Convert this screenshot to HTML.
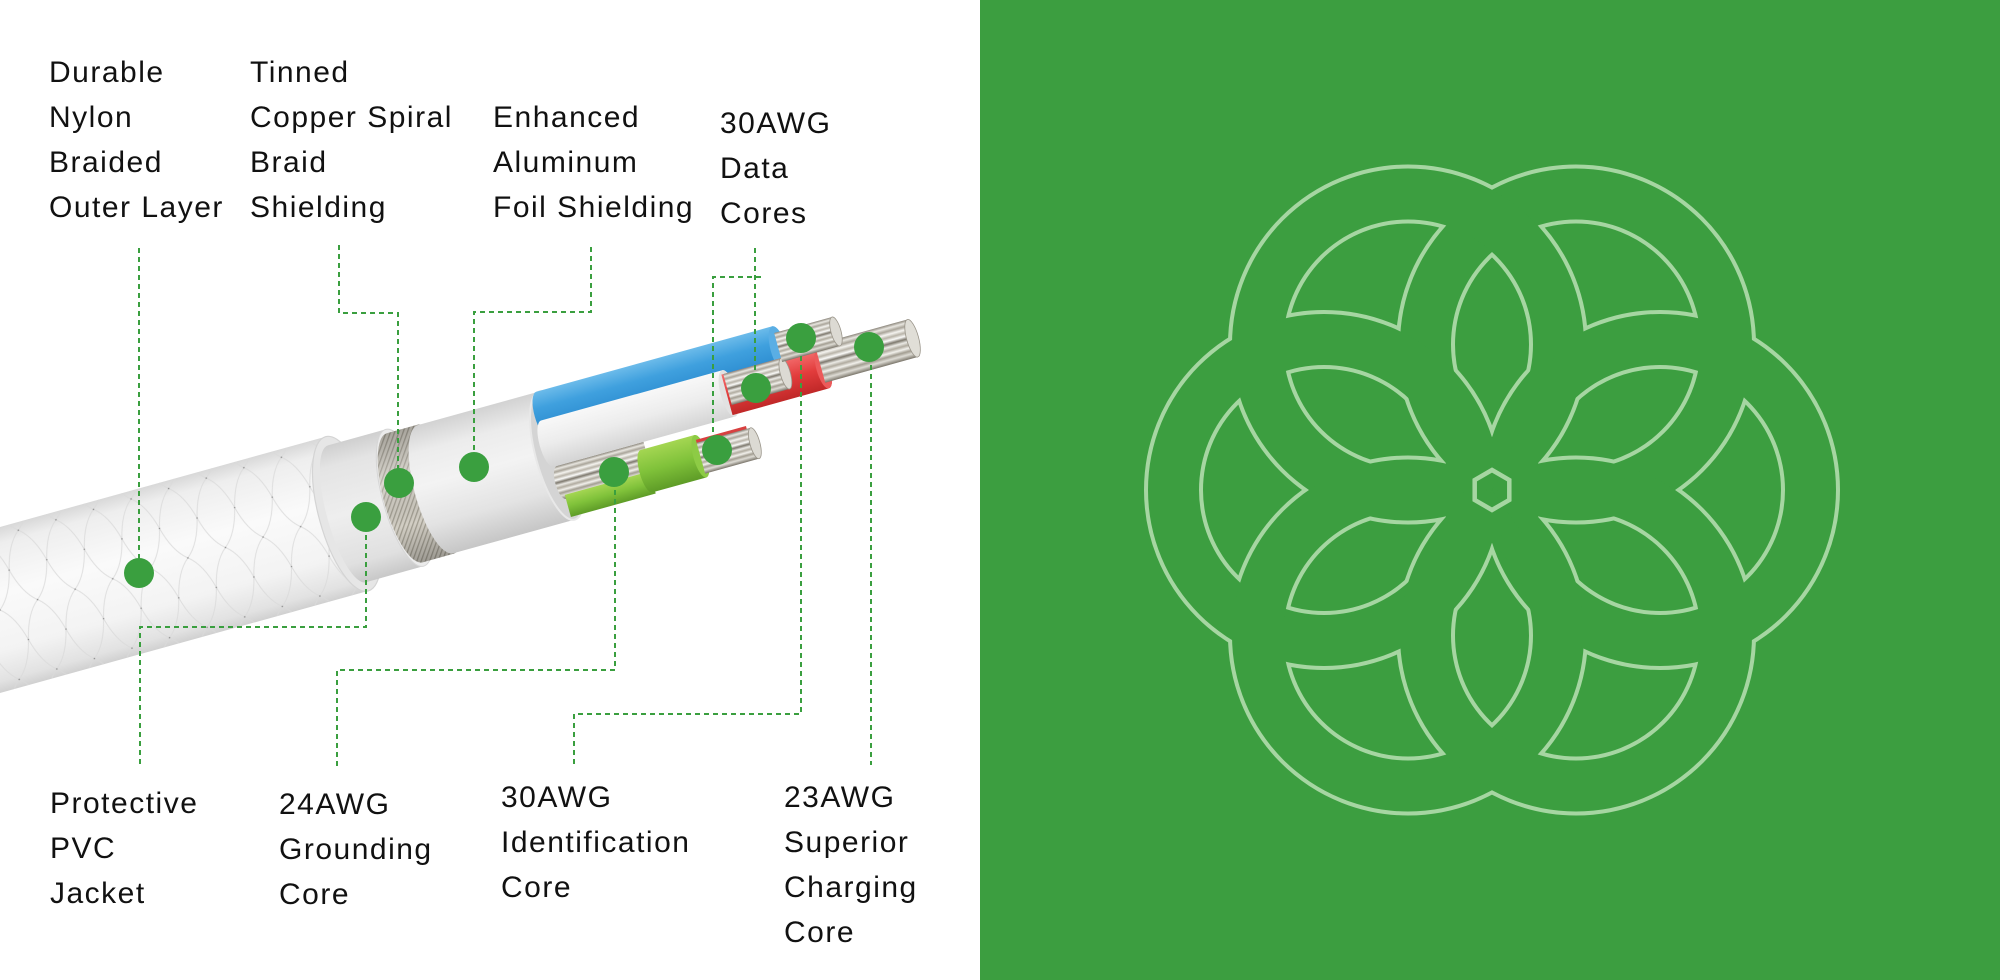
<!DOCTYPE html>
<html>
<head>
<meta charset="utf-8">
<style>
html,body{margin:0;padding:0;background:#fff;width:2000px;height:980px;overflow:hidden;}
svg{display:block;}
text{font-family:"Liberation Sans",Arial,sans-serif;font-size:30px;fill:#111;letter-spacing:1.5px;}
</style>
</head>
<body>
<svg xmlns="http://www.w3.org/2000/svg" width="2000" height="980" viewBox="0 0 2000 980">
<defs>
  <linearGradient id="gBraid" x1="0" y1="0" x2="0" y2="1">
    <stop offset="0" stop-color="#d8d8d8"/>
    <stop offset="0.1" stop-color="#eeeeee"/>
    <stop offset="0.4" stop-color="#fafafa"/>
    <stop offset="0.75" stop-color="#f3f3f3"/>
    <stop offset="0.93" stop-color="#e2e2e2"/>
    <stop offset="1" stop-color="#d0d0d0"/>
  </linearGradient>
  <linearGradient id="gPvc" x1="0" y1="0" x2="0" y2="1">
    <stop offset="0" stop-color="#cfcfcf"/>
    <stop offset="0.15" stop-color="#e4e4e4"/>
    <stop offset="0.5" stop-color="#eeeeee"/>
    <stop offset="0.85" stop-color="#e0e0e0"/>
    <stop offset="1" stop-color="#c8c8c8"/>
  </linearGradient>
  <linearGradient id="gFoil" x1="0" y1="0" x2="0" y2="1">
    <stop offset="0" stop-color="#d2d2d2"/>
    <stop offset="0.2" stop-color="#ececec"/>
    <stop offset="0.45" stop-color="#f3f3f3"/>
    <stop offset="0.75" stop-color="#e3e3e3"/>
    <stop offset="1" stop-color="#c6c6c6"/>
  </linearGradient>
  <linearGradient id="gShade" x1="0" y1="0" x2="0" y2="1">
    <stop offset="0" stop-color="#000" stop-opacity="0.2"/>
    <stop offset="0.35" stop-color="#fff" stop-opacity="0.25"/>
    <stop offset="0.7" stop-color="#000" stop-opacity="0"/>
    <stop offset="1" stop-color="#000" stop-opacity="0.25"/>
  </linearGradient>
  <linearGradient id="gBlue" x1="0" y1="0" x2="0" y2="1">
    <stop offset="0" stop-color="#6cbbea"/>
    <stop offset="0.35" stop-color="#3fa0de"/>
    <stop offset="0.75" stop-color="#2f8fd2"/>
    <stop offset="1" stop-color="#2a78b8"/>
  </linearGradient>
  <linearGradient id="gWhite" x1="0" y1="0" x2="0" y2="1">
    <stop offset="0" stop-color="#f8f8f8"/>
    <stop offset="0.5" stop-color="#ececec"/>
    <stop offset="1" stop-color="#d4d4d4"/>
  </linearGradient>
  <linearGradient id="gRed" x1="0" y1="0" x2="0" y2="1">
    <stop offset="0" stop-color="#f47070"/>
    <stop offset="0.5" stop-color="#e23c3c"/>
    <stop offset="1" stop-color="#c02828"/>
  </linearGradient>
  <linearGradient id="gGreen" x1="0" y1="0" x2="0" y2="1">
    <stop offset="0" stop-color="#a4d652"/>
    <stop offset="0.5" stop-color="#80c23a"/>
    <stop offset="1" stop-color="#5e9c27"/>
  </linearGradient>
  <linearGradient id="gStr" x1="0" y1="0" x2="0" y2="1">
    <stop offset="0" stop-color="#8a857a"/>
    <stop offset="0.08" stop-color="#e9e7e1"/>
    <stop offset="0.16" stop-color="#a9a499"/>
    <stop offset="0.24" stop-color="#f5f4f0"/>
    <stop offset="0.32" stop-color="#b8b3a8"/>
    <stop offset="0.40" stop-color="#fbfbf9"/>
    <stop offset="0.48" stop-color="#7d786d"/>
    <stop offset="0.56" stop-color="#ecebe6"/>
    <stop offset="0.64" stop-color="#b0ab9f"/>
    <stop offset="0.72" stop-color="#f2f1ec"/>
    <stop offset="0.80" stop-color="#a29d91"/>
    <stop offset="0.88" stop-color="#dedcd5"/>
    <stop offset="1" stop-color="#7a756a"/>
  </linearGradient>
  <pattern id="pB" patternUnits="userSpaceOnUse" width="39" height="72">
    <path d="M0,0 C10,8 16,22 19.5,36 C23,50 29,64 39,72 M39,0 C29,8 23,22 19.5,36 C16,50 10,64 0,72" fill="none" stroke="#dadada" stroke-width="1"/>
    <circle cx="19.5" cy="36" r="0.8" fill="#808080"/>
    <circle cx="0" cy="0" r="0.8" fill="#808080"/>
    <circle cx="39" cy="0" r="0.8" fill="#808080"/>
    <circle cx="0" cy="72" r="0.8" fill="#808080"/>
    <circle cx="39" cy="72" r="0.8" fill="#808080"/>
  </pattern>
  <pattern id="pS" patternUnits="userSpaceOnUse" width="4" height="4" patternTransform="rotate(35)">
    <rect width="4" height="4" fill="#d2cec4"/>
    <rect width="1.3" height="4" fill="#a29e92"/>
  </pattern>

  <path id="ring0" d="M1484,490a176,176 0 1,0 352,0a176,176 0 1,0 -352,0ZM1535,490a125,125 0 1,0 250,0a125,125 0 1,0 -250,0Z"/>
  <path id="ring1" d="M1400,344.5a176,176 0 1,0 352,0a176,176 0 1,0 -352,0ZM1451,344.5a125,125 0 1,0 250,0a125,125 0 1,0 -250,0Z"/>
  <path id="ring2" d="M1232,344.5a176,176 0 1,0 352,0a176,176 0 1,0 -352,0ZM1283,344.5a125,125 0 1,0 250,0a125,125 0 1,0 -250,0Z"/>
  <path id="ring3" d="M1148,490a176,176 0 1,0 352,0a176,176 0 1,0 -352,0ZM1199,490a125,125 0 1,0 250,0a125,125 0 1,0 -250,0Z"/>
  <path id="ring4" d="M1232,635.5a176,176 0 1,0 352,0a176,176 0 1,0 -352,0ZM1283,635.5a125,125 0 1,0 250,0a125,125 0 1,0 -250,0Z"/>
  <path id="ring5" d="M1400,635.5a176,176 0 1,0 352,0a176,176 0 1,0 -352,0ZM1451,635.5a125,125 0 1,0 250,0a125,125 0 1,0 -250,0Z"/>
  <polygon id="cut" points="1492,490 1478.6,461.2 1540.4,354.1 1555.4,354.1"/>
</defs>

<!-- backgrounds -->
<rect x="0" y="0" width="980" height="980" fill="#ffffff"/>
<rect x="980" y="0" width="1020" height="980" fill="#3c9e40"/>

<!-- logo: layer 1 (outline) -->
<g fill="#a6d6a2" stroke="#a6d6a2" stroke-width="8" fill-rule="evenodd" stroke-linejoin="round">
  <use href="#ring0"/><use href="#ring1"/><use href="#ring2"/>
  <use href="#ring3"/><use href="#ring4"/><use href="#ring5"/>
  <use href="#cut"/>
  <use href="#cut" transform="rotate(60 1492 490)"/>
  <use href="#cut" transform="rotate(120 1492 490)"/>
  <use href="#cut" transform="rotate(180 1492 490)"/>
  <use href="#cut" transform="rotate(240 1492 490)"/>
  <use href="#cut" transform="rotate(300 1492 490)"/>
</g>
<!-- logo: layer 2 (cover bands) -->
<g fill="#3c9e40" stroke="none" fill-rule="evenodd">
  <use href="#ring0"/><use href="#ring1"/><use href="#ring2"/>
  <use href="#ring3"/><use href="#ring4"/><use href="#ring5"/>
  <use href="#cut"/>
  <use href="#cut" transform="rotate(60 1492 490)"/>
  <use href="#cut" transform="rotate(120 1492 490)"/>
  <use href="#cut" transform="rotate(180 1492 490)"/>
  <use href="#cut" transform="rotate(240 1492 490)"/>
  <use href="#cut" transform="rotate(300 1492 490)"/>
</g>
<polygon points="1492,470 1509.3,480 1509.3,500 1492,510 1474.7,500 1474.7,480" fill="none" stroke="#a6d6a2" stroke-width="4.5"/>

<!-- cable -->
<g transform="translate(0,610) rotate(-15.5)">
  <!-- braided jacket -->
  <path d="M-200,-80 L360,-80 A28,80 0 0 1 360,80 L-200,80 Z" fill="url(#gBraid)"/>
  <path d="M-200,-80 L360,-80 A28,80 0 0 1 360,80 L-200,80 Z" fill="url(#pB)" opacity="0.85"/>
  <ellipse cx="360" cy="0" rx="28" ry="80" fill="#e6e6e6" stroke="#d4d4d4" stroke-width="1.2"/>
  <!-- PVC -->
  <path d="M360,-71 L420,-71 A22,71 0 0 1 420,71 L360,71 A20,71 0 0 1 360,-71 Z" fill="url(#gPvc)"/>
  <ellipse cx="420" cy="0" rx="22" ry="71" fill="#ebebeb" stroke="#d6d6d6" stroke-width="1"/>
  <!-- spiral shield -->
  <path d="M420,-67 L452,-67 A22,67 0 0 1 452,67 L420,67 A21,67 0 0 1 420,-67 Z" fill="url(#pS)"/>
  <path d="M420,-67 L452,-67 A22,67 0 0 1 452,67 L420,67 A21,67 0 0 1 420,-67 Z" fill="url(#gShade)"/>
  <!-- foil -->
  <path d="M452,-66.5 L578,-66.5 A21,66.5 0 0 1 578,66.5 L452,66.5 A21,66.5 0 0 1 452,-66.5 Z" fill="url(#gFoil)"/>
  <ellipse cx="578" cy="0" rx="21" ry="66.5" fill="#d4d4d4" stroke="#e8e8e8" stroke-width="2"/>
  <!-- blue wire -->
  <path d="M575,-67 L820,-67 A8,23.5 0 0 1 820,-20 L575,-20 A8,23.5 0 0 1 575,-67 Z" fill="url(#gBlue)"/>
  <ellipse cx="820" cy="-43.5" rx="8" ry="23.5" fill="#5aaee4"/>
  <!-- grounding strands + green -->
  <path d="M575,10 L665,10 L665,44 L575,44 A6,17 0 0 1 575,10 Z" fill="url(#gStr)"/>
  <rect x="575" y="40" width="88" height="23" fill="url(#gGreen)"/>
  <path d="M660,17 L716,17 A7,22 0 0 1 716,61 L660,61 A7,22 0 0 1 660,17 Z" fill="url(#gGreen)"/>
  <ellipse cx="716" cy="39" rx="7" ry="22" fill="#8dcb45"/>
  <rect x="716" y="22" width="52" height="4" fill="#d84040"/>
  <path d="M716,25 L772,25 A5,16 0 0 1 772,57 L716,57 Z" fill="url(#gStr)"/>
  <ellipse cx="772" cy="41" rx="5" ry="16" fill="#dcdad3" stroke="#9a958a" stroke-width="0.8"/>
  <!-- white wire -->
  <path d="M572,-38 L760,-38 A8,24 0 0 1 760,10 L572,10 A8,24 0 0 1 572,-38 Z" fill="url(#gWhite)"/>
  <ellipse cx="760" cy="-14" rx="8" ry="24" fill="#e2e2e2"/>
  <!-- red wire -->
  <path d="M758,-34 L858,-34 A7,21 0 0 1 858,8 L758,8 Z" fill="url(#gRed)"/>
  <ellipse cx="858" cy="-13" rx="7" ry="21" fill="#ec5a5a"/>
  <!-- white conductor strands -->
  <path d="M760,-34 L820,-34 A5,16 0 0 1 820,-2 L760,-2 Z" fill="url(#gStr)"/>
  <ellipse cx="820" cy="-18" rx="5" ry="16" fill="#dcdad3" stroke="#9a958a" stroke-width="0.8"/>
  <!-- big charging strands -->
  <path d="M856,-37.5 L952,-37.5 A6,19.5 0 0 1 952,1.5 L856,1.5 Z" fill="url(#gStr)"/>
  <ellipse cx="952" cy="-18" rx="6" ry="19.5" fill="#e0ded7" stroke="#9a958a" stroke-width="0.8"/>
  <!-- blue conductor strands -->
  <path d="M820,-60 L880,-60 A5,15 0 0 1 880,-30 L820,-30 Z" fill="url(#gStr)"/>
  <ellipse cx="880" cy="-45" rx="5" ry="15" fill="#dcdad3" stroke="#9a958a" stroke-width="0.8"/>
</g>

<!-- connector lines -->
<g fill="none" stroke="#3a9f3f" stroke-width="2" stroke-dasharray="5 4">
  <path d="M139,248V573"/>
  <path d="M366,517V627H140V766"/>
  <path d="M339,245V313H398V483"/>
  <path d="M591,247V312H474V467"/>
  <path d="M755,248V388"/>
  <path d="M713,450V277H765"/>
  <path d="M615,472V670H337V766"/>
  <path d="M801,338V714H574V765"/>
  <path d="M871,347V765"/>
</g>

<!-- dots -->
<g fill="#3a9f3f">
  <circle cx="139" cy="573" r="15"/>
  <circle cx="366" cy="517" r="15"/>
  <circle cx="399" cy="483" r="15"/>
  <circle cx="474" cy="467" r="15"/>
  <circle cx="756" cy="388" r="15"/>
  <circle cx="717" cy="450" r="15"/>
  <circle cx="614" cy="472" r="15"/>
  <circle cx="801" cy="338" r="15"/>
  <circle cx="869" cy="347" r="15"/>
</g>

<!-- top labels -->
<text x="49" y="82">Durable</text>
<text x="49" y="127">Nylon</text>
<text x="49" y="172">Braided</text>
<text x="49" y="217">Outer Layer</text>

<text x="250" y="82">Tinned</text>
<text x="250" y="127">Copper Spiral</text>
<text x="250" y="172">Braid</text>
<text x="250" y="217">Shielding</text>

<text x="493" y="127">Enhanced</text>
<text x="493" y="172">Aluminum</text>
<text x="493" y="217">Foil Shielding</text>

<text x="720" y="133">30AWG</text>
<text x="720" y="178">Data</text>
<text x="720" y="223">Cores</text>

<!-- bottom labels -->
<text x="50" y="813">Protective</text>
<text x="50" y="858">PVC</text>
<text x="50" y="903">Jacket</text>

<text x="279" y="814">24AWG</text>
<text x="279" y="859">Grounding</text>
<text x="279" y="904">Core</text>

<text x="501" y="807">30AWG</text>
<text x="501" y="852">Identification</text>
<text x="501" y="897">Core</text>

<text x="784" y="807">23AWG</text>
<text x="784" y="852">Superior</text>
<text x="784" y="897">Charging</text>
<text x="784" y="942">Core</text>
</svg>
</body>
</html>
